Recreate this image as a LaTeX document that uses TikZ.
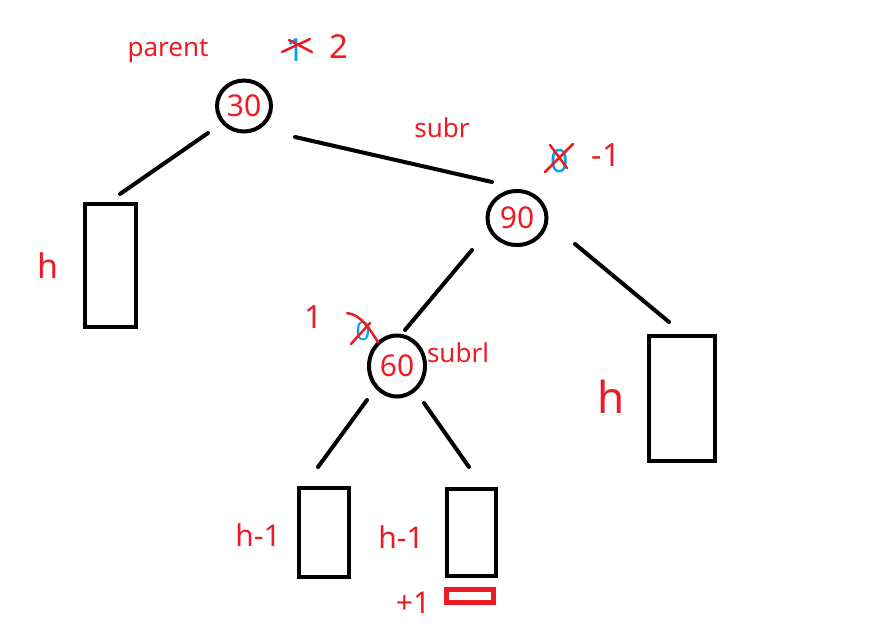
\documentclass[tikz,border=0pt]{standalone}
\usepackage{fontspec}
\setmainfont{Noto Sans}
\usetikzlibrary{shapes.geometric}
\definecolor{pred}{HTML}{ED1C24}
\definecolor{pblue}{HTML}{00A2E8}
\begin{document}
\begin{tikzpicture}[x=1pt,y=-1pt,
  treenode/.style={ellipse,draw=black,line width=4pt,inner sep=0,text=pred,font=\fontsize{30}{32}\selectfont},
  subtree/.style={rectangle,draw=black,line width=4.5pt,inner sep=0},
  edge/.style={line width=4pt,line cap=round},
  lab/.style={text=pred,font=\fontsize{26}{30}\selectfont,inner sep=0},
  hand/.style={text=pred,inner sep=0},
  oldval/.style={text=pblue,inner sep=0,font=\bfseries\fontsize{32}{34}\selectfont},
  cross/.style={draw=pred,line width=2.5pt,line cap=round},
]
\useasboundingbox[fill=white] (0,0) rectangle (880,641);

% tree nodes
\node[treenode,minimum width=54pt,minimum height=51pt] (n30) at (244,106) {30};
\node[treenode,minimum width=59pt,minimum height=54pt] (n90) at (517,218) {90};
\node[treenode,minimum width=56pt,minimum height=61pt] (n60) at (397,366) {60};

% subtrees
\node[subtree,minimum width=51pt,minimum height=123pt] (tA) at (110.5,265.5) {};
\node[subtree,minimum width=66pt,minimum height=125pt] (tD) at (682,398.5) {};
\node[subtree,minimum width=50pt,minimum height=89pt] (tB) at (324,532.5) {};
\node[subtree,minimum width=49pt,minimum height=87pt] (tC) at (471.5,532.5) {};
\node[rectangle,draw=pred,line width=5pt,inner sep=0,minimum width=47pt,minimum height=13pt] (plus) at (469.5,595.5) {};

% edge end points
\coordinate (e1a) at (208,133); \coordinate (e1b) at (120,194);
\coordinate (e2a) at (295,137); \coordinate (e2b) at (492,182);
\coordinate (e3a) at (472,250); \coordinate (e3b) at (405,330);
\coordinate (e4a) at (575,244); \coordinate (e4b) at (669,322);
\coordinate (e5a) at (367,400); \coordinate (e5b) at (318,467);
\coordinate (e6a) at (424,403); \coordinate (e6b) at (469,467);
\draw[edge] (e1a) -- (e1b);
\draw[edge] (e2a) -- (e2b);
\draw[edge] (e3a) -- (e3b);
\draw[edge] (e4a) -- (e4b);
\draw[edge] (e5a) -- (e5b);
\draw[edge] (e6a) -- (e6b);

% labels
\node[lab] (lparent) at (168,51) {parent};
\node[lab] (lsubr) at (442,128) {subr};
\node[lab] (lsubrl) at (458,353) {subrl};

% heights
\node[hand,font=\fontsize{34}{36}\selectfont] (hA) at (48,266) {h};
\node[hand,font=\fontsize{44}{46}\selectfont] (hD) at (611,397) {h};
\node[hand,font=\fontsize{30}{32}\selectfont] (hB) at (258,535) {h-1};
\node[hand,font=\fontsize{30}{32}\selectfont] (hC) at (401,537) {h-1};
\node[hand,font=\fontsize{30}{32}\selectfont] (hP) at (413,603) {+1};

% balance factors: parent
\node[oldval] (bf30old) at (296,50) {1};
\draw[cross] (282,52) -- (310,39);
\draw[cross] (289,40) -- (312,52);
\node[hand,font=\fontsize{33}{35}\selectfont] (bf30) at (339,47) {2};

% balance factors: subr
\node[oldval] (bf90old) at (560,161) {0};
\draw[cross] (545,172) -- (573,144);
\draw[cross] (550,145) -- (567,168);
\node[hand,font=\fontsize{32}{34}\selectfont] (bf90) at (606,155) {-1};

% balance factors: subrl
\node[hand,font=\fontsize{32}{34}\selectfont] (bf60) at (314,317) {1};
\node[oldval,font=\bfseries\fontsize{26}{28}\selectfont] (bf60old) at (363,331) {0};
\draw[cross] (347,313) .. controls (362,315) and (370,330) .. (378,342);
\draw[cross] (351,344) -- (370,323);
\end{tikzpicture}
\end{document}
